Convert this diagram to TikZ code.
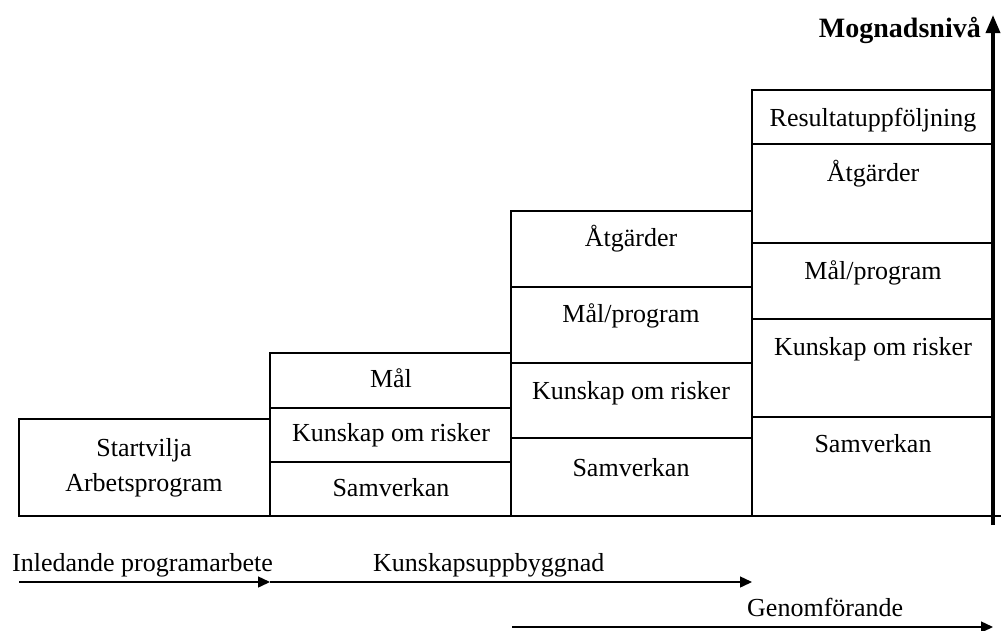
\documentclass[tikz,border=0pt]{standalone}
\usepackage{fontspec}
\setmainfont{Liberation Serif}
\usetikzlibrary{arrows.meta}
\tikzset{>={Triangle[length=12pt,width=11pt]}}
\tikzset{
  cell/.style={draw,line width=1.8pt,anchor=north west,inner sep=0pt,outer sep=0pt},
  txt/.style={font=\fontsize{26}{35}\selectfont,inner sep=0pt,text height=17pt,text depth=5pt},
}

\begin{document}
\begin{tikzpicture}[line cap=butt,line join=miter,x=1pt,y=-1pt]
			\useasboundingbox (0,0) rectangle (1003,630);
			% steg 1
			\node[cell,minimum width=251pt,minimum height=97pt] (start) at (19,419) {};
			\node[font=\fontsize{26}{35}\selectfont,inner sep=0pt,align=center] (tstart) at (144,468) {Startvilja\\Arbetsprogram};
			% steg 2
			\node[cell,minimum width=241pt,minimum height=55pt] (bmal) at (270,353) {};
			\node[cell,minimum width=241pt,minimum height=54pt] (bkun) at (270,408) {};
			\node[cell,minimum width=241pt,minimum height=54pt] (bsam) at (270,462) {};
			\node[txt] (tbmal) at (391,381) {Mål};
			\node[txt] (tbkun) at (391,435) {Kunskap om risker};
			\node[txt] (tbsam) at (391,490) {Samverkan};
			% steg 3
			\node[cell,minimum width=241pt,minimum height=76pt] (catg) at (511,211) {};
			\node[cell,minimum width=241pt,minimum height=76pt] (cmal) at (511,287) {};
			\node[cell,minimum width=241pt,minimum height=75pt] (ckun) at (511,363) {};
			\node[cell,minimum width=241pt,minimum height=78pt] (csam) at (511,438) {};
			\node[txt] (tcatg) at (631,240) {Åtgärder};
			\node[txt] (tcmal) at (631,316) {Mål/program};
			\node[txt] (tckun) at (631,393) {Kunskap om risker};
			\node[txt] (tcsam) at (631,470) {Samverkan};
			% steg 4
			\node[cell,minimum width=240pt,minimum height=54pt] (dres) at (752,90) {};
			\node[cell,minimum width=240pt,minimum height=99pt] (datg) at (752,144) {};
			\node[cell,minimum width=240pt,minimum height=76pt] (dmal) at (752,243) {};
			\node[cell,minimum width=240pt,minimum height=98pt] (dkun) at (752,319) {};
			\node[cell,minimum width=240pt,minimum height=99pt] (dsam) at (752,417) {};
			\node[txt] (tdres) at (873,120) {Resultatuppföljning};
			\node[txt] (tdatg) at (873,175) {Åtgärder};
			\node[txt] (tdmal) at (873,273) {Mål/program};
			\node[txt] (tdkun) at (873,349) {Kunskap om risker};
			\node[txt] (tdsam) at (873,446) {Samverkan};
			% axlar
			\coordinate (b0) at (18,516);
			\coordinate (b1) at (1001,516);
			\coordinate (a0) at (993,525);
			\coordinate (a1) at (993,15);
			\draw[line width=2.6pt] (b0) -- (b1);
			\draw[line width=3.5pt,-{Triangle[length=18pt,width=14pt]}] (a0) -- (a1);
			\node[txt,font=\fontsize{28}{30}\selectfont\bfseries,anchor=east] (ylab) at (981,31) {Mognadsnivå};
			% faser
			\coordinate (p0) at (19,582);
			\coordinate (p1) at (270,582);
			\coordinate (p2) at (752,582);
			\coordinate (q0) at (512,627);
			\coordinate (q1) at (993,627);
			\draw[->,line width=1.4pt] (p0) -- (p1);
			\draw[->,line width=1.4pt] (p1) -- (p2);
			\draw[->,line width=1.4pt] (q0) -- (q1);
			\node[txt,anchor=west] (finl) at (12,565) {Inledande programarbete};
			\node[txt,anchor=west] (fkun) at (373,565) {Kunskapsuppbyggnad};
			\node[txt,anchor=west] (fgen) at (747,610) {Genomförande};
		\end{tikzpicture}
\end{document}
